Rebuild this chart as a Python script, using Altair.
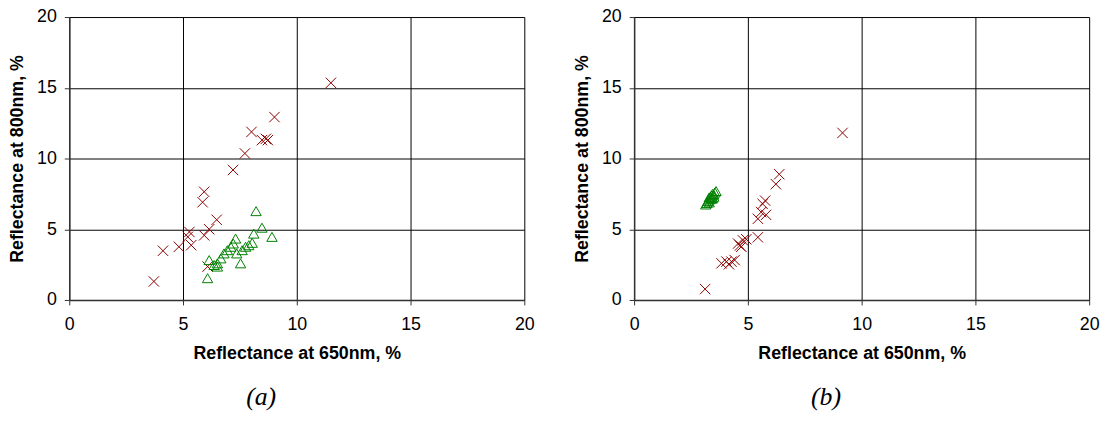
import altair as alt
import pandas as pd

# Panel (a)
a_red_x = [11.5, 9.02, 8.01, 8.47, 8.64, 8.73, 7.72, 7.20, 5.93, 5.86, 6.48, 6.15, 5.93, 5.28, 5.21, 5.36, 4.82, 4.12, 3.72, 6.08]
a_red_y = [15.35, 12.93, 11.88, 11.30, 11.39, 11.30, 10.36, 9.19, 7.65, 6.91, 5.67, 5.00, 4.57, 4.81, 4.46, 3.87, 3.76, 3.48, 1.31, 2.36]
a_green_x = [8.21, 8.47, 8.91, 8.11, 8.04, 7.89, 7.75, 7.60, 7.31, 7.21, 7.10, 7.36, 7.53, 6.95, 6.80, 6.66, 6.51, 6.37, 6.15, 6.51, 6.08]
a_green_y = [6.28, 5.11, 4.46, 4.69, 4.04, 3.87, 3.76, 3.52, 4.34, 3.99, 3.76, 3.29, 2.59, 3.52, 3.29, 2.94, 2.59, 2.47, 2.82, 2.36, 1.54]

# Panel (b)
b_red_x = [9.16, 6.38, 6.23, 5.76, 5.65, 5.80, 5.58, 5.44, 5.44, 4.93, 4.78, 4.71, 4.57, 4.65, 4.42, 4.28, 4.17, 4.06, 3.84, 3.12]
b_red_y = [11.81, 8.89, 8.19, 7.02, 6.79, 6.02, 6.21, 5.74, 4.43, 4.29, 4.22, 3.76, 3.99, 3.85, 2.82, 2.71, 2.52, 2.71, 2.59, 0.77]
b_green_x = [3.15, 3.20, 3.25, 3.30, 3.30, 3.35, 3.40, 3.45, 3.50, 3.55, 3.60, 3.40, 3.50, 3.30, 3.45]
b_green_y = [6.75, 6.85, 7.00, 7.10, 7.25, 7.30, 7.40, 7.50, 7.45, 7.60, 7.70, 7.15, 7.30, 6.90, 7.20]

x_title = "Reflectance at 650nm, %"
y_title = "Reflectance at 800nm, %"
ticks = [0, 5, 10, 15, 20]

CROSS = "M-1,-1L1,1M-1,1L1,-1"


def frame(rx, ry, gx, gy):
    rows = [{"x": x, "y": y, "s": "red"} for x, y in zip(rx, ry)]
    rows += [{"x": x, "y": y, "s": "green"} for x, y in zip(gx, gy)]
    return pd.DataFrame(rows)


def panel(df, caption):
    return alt.Chart(df).mark_point(filled=False, size=110, strokeWidth=1, opacity=1).encode(
        x=alt.X("x:Q", title=x_title,
                scale=alt.Scale(domain=[0, 20], nice=False, zero=False),
                axis=alt.Axis(values=ticks, format="d", labelPadding=11, titlePadding=11)),
        y=alt.Y("y:Q", title=y_title,
                scale=alt.Scale(domain=[0, 20], nice=False, zero=False),
                axis=alt.Axis(values=ticks, format="d", labelPadding=8, titlePadding=10)),
        shape=alt.Shape("s:N", scale=alt.Scale(domain=["red", "green"], range=[CROSS, "triangle-up"]), legend=None),
        color=alt.Color("s:N", scale=alt.Scale(domain=["red", "green"], range=["#8B0000", "#008000"]), legend=None),
    ).properties(
        width=460, height=286,
        title=alt.TitleParams(caption, orient="bottom", font="Liberation Serif", fontStyle="italic",
                              fontWeight="normal", fontSize=26, offset=22, dx=-36, color="black"),
    )


chart = alt.hconcat(
    panel(frame(a_red_x, a_red_y, a_green_x, a_green_y), "(a)"),
    panel(frame(b_red_x, b_red_y, b_green_x, b_green_y), "(b)"),
    spacing=38,
).properties(
    padding={"left": 8, "top": 6, "right": 5, "bottom": 0},
    background="white",
).configure_view(stroke=None).configure_axis(
    grid=True, gridColor="black", gridWidth=1, gridOpacity=1,
    domainColor="#333333", domainWidth=1.5,
    tickColor="#333333", tickSize=5, tickWidth=1,
    labelFont="Liberation Sans", labelFontSize=18, labelColor="black",
    titleFont="Liberation Sans", titleFontSize=18, titleFontWeight="bold", titleColor="black",
).configure_axisX(labelFlush=False).configure_axisY(labelFlush=False)

chart.save("out.html", embed_options={"renderer": "svg", "actions": False})
